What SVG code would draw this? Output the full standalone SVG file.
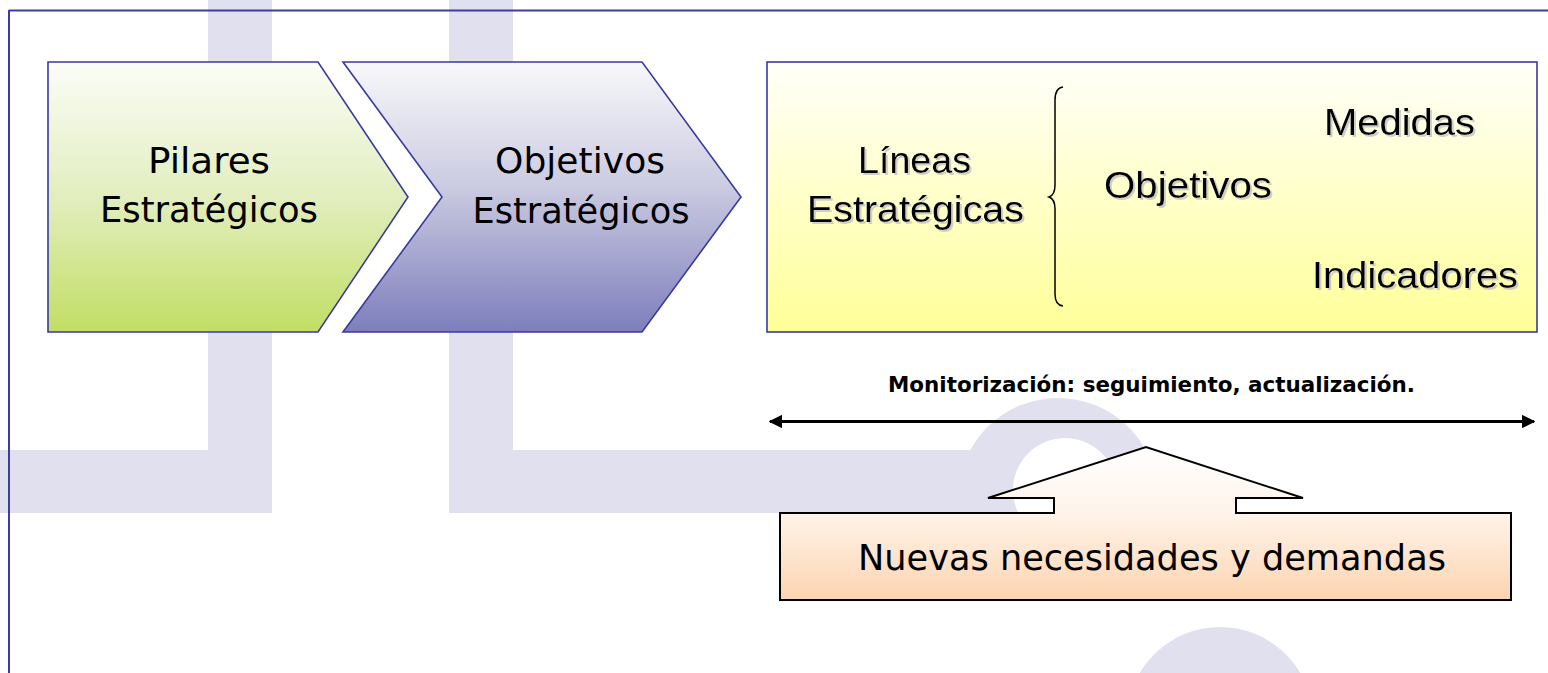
<svg xmlns="http://www.w3.org/2000/svg" width="1548" height="673" viewBox="0 0 1548 673">
  <defs>
    <linearGradient id="gGreen" x1="0" y1="0" x2="0" y2="1">
      <stop offset="0" stop-color="#fbfdf7"/>
      <stop offset="0.5" stop-color="#e2eebf"/>
      <stop offset="1" stop-color="#c2de64"/>
    </linearGradient>
    <linearGradient id="gPurple" x1="0" y1="0" x2="0" y2="1">
      <stop offset="0" stop-color="#f8f8fb"/>
      <stop offset="0.45" stop-color="#ccccE2"/>
      <stop offset="1" stop-color="#7e7ebd"/>
    </linearGradient>
    <linearGradient id="gYellow" x1="0" y1="0" x2="0" y2="1">
      <stop offset="0" stop-color="#fffffa"/>
      <stop offset="1" stop-color="#ffff99"/>
    </linearGradient>
    <linearGradient id="gPeach" x1="0" y1="447" x2="0" y2="600" gradientUnits="userSpaceOnUse">
      <stop offset="0" stop-color="#ffffff"/>
      <stop offset="0.45" stop-color="#fff3e8"/>
      <stop offset="1" stop-color="#fcd4b0"/>
    </linearGradient>
    <marker id="ah" viewBox="0 0 10 10" refX="9" refY="5" markerWidth="4.5" markerHeight="4.5" orient="auto-start-reverse" markerUnits="strokeWidth">
      <path d="M0,0 L10,5 L0,10 Z" fill="#000"/>
    </marker>
    <filter id="sh" x="-5%" y="-5%" width="110%" height="120%">
      <feOffset dx="2" dy="2" in="SourceAlpha" result="o"/>
      <feColorMatrix in="o" type="matrix" values="0 0 0 0 0.55  0 0 0 0 0.55  0 0 0 0 0.55  0 0 0 0.8 0" result="c"/>
      <feMerge><feMergeNode in="c"/><feMergeNode in="SourceGraphic"/></feMerge>
    </filter>
  </defs>
  <style>
    .wm { fill: #e0e0ee; }
    .box { stroke: #3a3a9e; stroke-width: 1.6; }
    .t1 { font-family: "DejaVu Sans", Verdana, sans-serif; font-size: 36px; fill: #000; text-anchor: middle; }
    .t2 { font-family: "Liberation Sans", Arial, sans-serif; font-size: 37px; fill: #000; }
    .t3 { font-family: "DejaVu Sans", Verdana, sans-serif; font-size: 22px; font-weight: bold; fill: #000; }
  </style>

  <rect x="0" y="0" width="1548" height="673" fill="#ffffff"/>

  <g id="watermark">
    <rect class="wm" x="208" y="0" width="64" height="513"/>
    <rect class="wm" x="0" y="450" width="272" height="63"/>
    <rect class="wm" x="449" y="0" width="64" height="513"/>
    <rect class="wm" x="449" y="450" width="560" height="63"/>
    <path class="wm" fill-rule="evenodd" d="M958,498 A100,100 0 1,1 1158,498 A100,100 0 1,1 958,498 Z M1013,490 A52,52 0 1,0 1117,490 A52,52 0 1,0 1013,490 Z"/>
    <circle class="wm" cx="1220" cy="720" r="93"/>
  </g>

  <g id="frame" fill="none" stroke="#3c3ca2" stroke-width="2">
    <line x1="9" y1="10.5" x2="1548" y2="10.5"/>
    <line x1="9" y1="10" x2="9" y2="673"/>
  </g>

  <g id="pilares">
    <path class="box" d="M48,62 L318,62 L408,197 L318,332 L48,332 Z" fill="url(#gGreen)"/>
    <text class="t1" x="209" y="173" textLength="122" lengthAdjust="spacingAndGlyphs">Pilares</text>
    <text class="t1" x="209" y="222" textLength="218" lengthAdjust="spacingAndGlyphs">Estratégicos</text>
  </g>

  <g id="objetivos-estrategicos">
    <path class="box" d="M343,62 L642,62 L741,197 L642,332 L343,332 L442,197 Z" fill="url(#gPurple)"/>
    <text class="t1" x="580" y="173" textLength="170" lengthAdjust="spacing">Objetivos</text>
    <text class="t1" x="581" y="223" textLength="217" lengthAdjust="spacingAndGlyphs">Estratégicos</text>
  </g>

  <g id="lineas">
    <rect class="box" x="767" y="62" width="770" height="270" fill="url(#gYellow)"/>
    <g filter="url(#sh)">
      <text class="t2" x="858" y="173" textLength="113" lengthAdjust="spacingAndGlyphs">Líneas</text>
      <text class="t2" x="807" y="222" textLength="217" lengthAdjust="spacingAndGlyphs">Estratégicas</text>
      <text class="t2" x="1104" y="198" textLength="168" lengthAdjust="spacingAndGlyphs">Objetivos</text>
      <text class="t2" x="1324" y="135" textLength="151" lengthAdjust="spacingAndGlyphs">Medidas</text>
      <text class="t2" x="1312" y="288" textLength="206" lengthAdjust="spacingAndGlyphs">Indicadores</text>
    </g>
    <path d="M1063,87 Q1055,88 1055,100 L1055,185 Q1055,195 1049,197 Q1055,199 1055,209 L1055,294 Q1055,305 1063,306" fill="none" stroke="#000" stroke-width="1.5"/>
  </g>

  <g id="connectors">
    <line x1="770" y1="421.5" x2="1534" y2="421.5" stroke="#000" stroke-width="3" marker-start="url(#ah)" marker-end="url(#ah)"/>
    <text class="t3" x="888" y="392" textLength="527" lengthAdjust="spacingAndGlyphs">Monitorización: seguimiento, actualización.</text>
  </g>

  <g id="nuevas">
    <path d="M780,513 L1054,513 L1054,498 L988,498 L1146,447 L1303,498 L1236,498 L1236,513 L1511,513 L1511,600 L780,600 Z" fill="url(#gPeach)" stroke="#000" stroke-width="2"/>
    <text class="t1" x="1152" y="570" font-size="37" textLength="588" lengthAdjust="spacingAndGlyphs">Nuevas necesidades y demandas</text>
  </g>
</svg>
